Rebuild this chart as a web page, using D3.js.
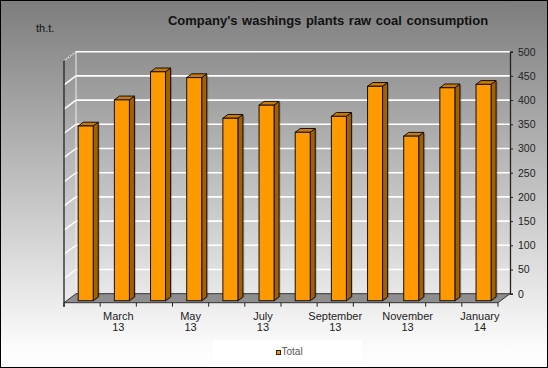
<!DOCTYPE html>
<html>
<head>
<meta charset="utf-8">
<script src="https://cdn.jsdelivr.net/npm/d3@7"></script>
<style>
  body { margin: 0; overflow: hidden; }
  svg { display: block; font-family: Arial, 'Liberation Sans', sans-serif; }
</style>
</head>
<body>
<script>
const months = ['February', 'March', 'April', 'May', 'June', 'July', 'August',
  'September', 'October', 'November', 'December', 'January']
const years = ['13', '13', '13', '13', '13', '13', '13', '13', '13', '13', '13', '14']
const totals = [361, 415, 473, 461, 377, 404, 348, 381, 443, 340, 440, 447]
const yTicks = [0, 50, 100, 150, 200, 250, 300, 350, 400, 450, 500]

const W = 548, H = 368
// depth offset of the 3d box
const DX = 12, DY = -9
const d0 = 0.22, d1 = 0.64

const svg = d3.select('body').append('svg')
  .attr('width', W)
  .attr('height', H)

const defs = svg.append('defs')
const bg = defs.append('linearGradient')
  .attr('id', 'bg').attr('x1', 0).attr('y1', 0).attr('x2', 0).attr('y2', 1)
bg.append('stop').attr('offset', '0%').attr('stop-color', '#7d7d7d')
bg.append('stop').attr('offset', '94%').attr('stop-color', '#fbfbfb')
bg.append('stop').attr('offset', '100%').attr('stop-color', '#ffffff')

svg.append('rect')
  .attr('width', W).attr('height', H)
  .attr('fill', 'url(#bg)')

const keys = months.map((m, i) => m + ' ' + years[i])

const x = d3.scaleBand()
  .domain(keys)
  .range([64, 498])

const y = d3.scaleLinear()
  .domain([0, 500])
  .range([302.7, 60.7])

const p = (px, py, d) => [px + DX * d, py + DY * d]
const poly = pts => pts.map(q => q.join(',')).join(' ')

// back wall grid
svg.append('g').selectAll('line')
  .data(yTicks.filter(t => t > 0))
  .join('line')
  .attr('x1', p(64, 0, 1)[0])
  .attr('x2', p(498, 0, 1)[0])
  .attr('y1', d => p(0, y(d), 1)[1])
  .attr('y2', d => p(0, y(d), 1)[1])
  .attr('stroke', '#ffffff')
  .attr('stroke-width', 1.6)

// left wall grid
svg.append('g').selectAll('line')
  .data(yTicks.filter(t => t > 0))
  .join('line')
  .attr('x1', 64).attr('y1', d => y(d))
  .attr('x2', 76).attr('y2', d => p(0, y(d), 1)[1])
  .attr('stroke', '#ffffff')
  .attr('stroke-width', 1.4)

svg.append('line')
  .attr('x1', 76).attr('x2', 76)
  .attr('y1', p(0, y(500), 1)[1]).attr('y2', p(0, y(0), 1)[1])
  .attr('stroke', '#eeeeee')
svg.append('line')
  .attr('x1', 64).attr('y1', y(500))
  .attr('x2', 76).attr('y2', p(0, y(500), 1)[1])
  .attr('stroke', '#666')
  .attr('stroke-dasharray', '2,1')

// floor
svg.append('polygon')
  .attr('points', poly([[64, y(0)], [498, y(0)], p(498, y(0), 1), p(64, y(0), 1)]))
  .attr('fill', '#8e8e8e')
  .attr('stroke', '#333')
  .attr('stroke-width', 1)

// bars
const bw = x.bandwidth()
const bars = svg.append('g').selectAll('g')
  .data(totals)
  .join('g')

const xl = (d, i) => x(keys[i]) + bw * 0.32
const xr = (d, i) => x(keys[i]) + bw * 0.32 + 15

// shadow
bars.append('polygon')
  .attr('points', (d, i) => poly([
    p(xr(d, i) + 1.5, y(d) + 1, d1), p(xr(d, i) + 1.5, y(0), d1),
    p(xr(d, i) + 1.5, y(0), d0), p(xr(d, i) + 1.5, y(d) + 1, d0)]))
  .attr('fill', '#000')
  .attr('opacity', 0.18)

bars.append('polygon')
  .attr('points', (d, i) => poly([
    p(xr(d, i), y(d), d0), p(xr(d, i), y(0), d0),
    p(xr(d, i), y(0), d1), p(xr(d, i), y(d), d1)]))
  .attr('fill', '#a35f00')
  .attr('stroke', '#111')
  .attr('stroke-width', 1)
  .attr('stroke-linejoin', 'round')

bars.append('polygon')
  .attr('points', (d, i) => poly([
    p(xl(d, i), y(d), d0), p(xr(d, i), y(d), d0),
    p(xr(d, i), y(d), d1), p(xl(d, i), y(d), d1)]))
  .attr('fill', '#cc7a00')
  .attr('stroke', '#111')
  .attr('stroke-width', 1)
  .attr('stroke-linejoin', 'round')

bars.append('rect')
  .attr('x', (d, i) => p(xl(d, i), 0, d0)[0])
  .attr('y', d => p(0, y(d), d0)[1])
  .attr('width', 15)
  .attr('height', d => y(0) - y(d))
  .attr('fill', '#ff9900')
  .attr('stroke', '#111')
  .attr('stroke-width', 1)

// left axis line
svg.append('line')
  .attr('x1', 64).attr('x2', 64)
  .attr('y1', y(500)).attr('y2', y(0) + 4)
  .attr('stroke', '#222')
  .attr('stroke-width', 1.3)

// right value axis on the back plane
const yBack = d3.scaleLinear()
  .domain([0, 500])
  .range([p(0, y(0), 1)[1], p(0, y(500), 1)[1]])

svg.append('g')
  .attr('transform', 'translate(' + p(498, 0, 1)[0] + ',0)')
  .call(d3.axisRight(yBack).tickValues(yTicks).tickSize(3).tickPadding(5).tickFormat(d3.format('d')))
  .call(g => g.select('.domain').attr('stroke', '#222').attr('stroke-width', 1.3))
  .call(g => g.selectAll('.tick line').attr('stroke', '#222'))
  .call(g => g.selectAll('.tick text')
    .attr('fill', '#222')
    .style('font-size', '10.5px')
    .style('font-family', 'Arial, Liberation Sans, sans-serif'))

// x axis ticks on the front edge
const edges = keys.map(k => x(k)).concat([498])
svg.append('g').selectAll('line')
  .data(edges)
  .join('line')
  .attr('x1', d => d).attr('x2', d => d)
  .attr('y1', y(0)).attr('y2', y(0) + 4)
  .attr('stroke', '#222')

const labels = svg.append('g')
  .selectAll('text')
  .data(keys.filter((k, i) => i % 2 === 1))
  .join('text')
  .attr('x', d => x(d) + bw / 2)
  .attr('y', 319.5)
  .attr('text-anchor', 'middle')
  .attr('fill', '#222')
  .style('font-size', '11px')

labels.append('tspan')
  .attr('x', d => x(d) + bw / 2)
  .text(d => d.split(' ')[0])
labels.append('tspan')
  .attr('x', d => x(d) + bw / 2)
  .attr('dy', 11.5)
  .text(d => d.split(' ')[1])

// title and unit
svg.append('text')
  .attr('x', 328)
  .attr('y', 25)
  .attr('text-anchor', 'middle')
  .attr('fill', '#111')
  .style('font-size', '13px')
  .style('font-weight', 'bold')
  .style('word-spacing', '1px')
  .text("Company's washings plants raw coal consumption")

svg.append('text')
  .attr('x', 36)
  .attr('y', 31.5)
  .attr('fill', '#111')
  .style('font-size', '11px')
  .text('th.t.')

// legend
svg.append('rect')
  .attr('x', 213).attr('y', 340)
  .attr('width', 149).attr('height', 27)
  .attr('fill', '#ffffff')

svg.append('rect')
  .attr('x', 276.5).attr('y', 350.5)
  .attr('width', 4).attr('height', 4)
  .attr('fill', '#ff9900')
  .attr('stroke', '#222')

svg.append('text')
  .attr('x', 281.5)
  .attr('y', 355)
  .attr('fill', '#555')
  .style('font-size', '10px')
  .text('Total')

// outer border
svg.append('rect')
  .attr('x', 0.5).attr('y', 0.5)
  .attr('width', W - 1).attr('height', H - 1)
  .attr('fill', 'none')
  .attr('stroke', '#000')
</script>
</body>
</html>
